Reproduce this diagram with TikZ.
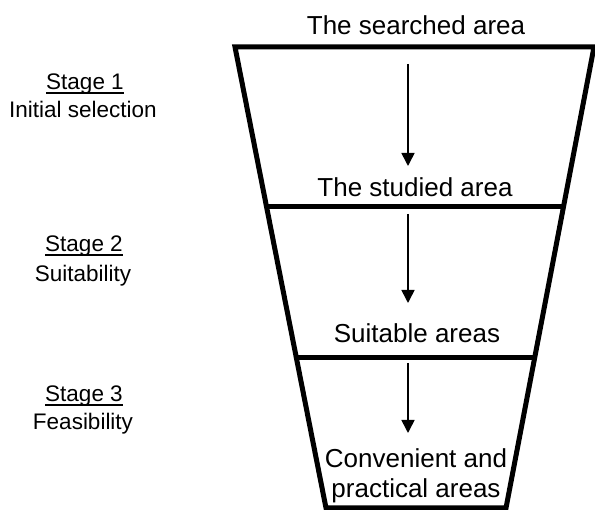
\documentclass[tikz,border=0pt]{standalone}
\usepackage{fontspec}
\setmainfont{Liberation Sans}
\usetikzlibrary{arrows.meta,calc}
\tikzset{
  rim/.style={line width=5pt,line join=miter},
  flow/.style={-{Triangle[width=13pt,length=13pt]},line width=1.6pt},
  arealabel/.style={font=\fontsize{26}{30}\selectfont,anchor=base,inner sep=0pt},
  stagelabel/.style={font=\fontsize{22.5}{26}\selectfont,anchor=base,inner sep=0pt},
  uline/.style={line width=1.3pt}
}
\begin{document}
\begin{tikzpicture}[x=1pt,y=-1pt]
        \useasboundingbox (0,0) rectangle (595,510);

        % воронка
        \coordinate (tl) at (235,47);
        \coordinate (tr) at (594,47);
        \coordinate (br) at (506,508);
        \coordinate (bl) at (326,508);
        \draw[rim] (tl) -- (tr) -- (br) -- (bl) -- cycle;
        \draw[rim] ($(tl)!0.347!(bl)$) -- ($(tr)!0.347!(br)$);
        \draw[rim] ($(tl)!0.6725!(bl)$) -- ($(tr)!0.6725!(br)$);

        % подписи уровней
        \node[arealabel] (searched) at (416,35) {The searched area};
        \node[arealabel] (studied) at (415,197) {The studied area};
        \node[arealabel] (suitable) at (417,343) {Suitable areas};
        \node[arealabel] (convenient) at (416,468) {Convenient and};
        \node[arealabel] (practical) at (416,498) {practical areas};

        % стрелки
        \coordinate (s1) at (408,64);
        \coordinate (e1) at (408,166);
        \coordinate (s2) at (408,214);
        \coordinate (e2) at (408,303);
        \coordinate (s3) at (408,363);
        \coordinate (e3) at (408,433);
        \draw[flow] (s1) -- (e1);
        \draw[flow] (s2) -- (e2);
        \draw[flow] (s3) -- (e3);

        % этапы
        \node[stagelabel] (stage1) at (85,90) {Stage 1};
        \node[stagelabel] (initial) at (83,118) {Initial selection};
        \node[stagelabel] (stage2) at (84,252) {Stage 2};
        \node[stagelabel] (suitability) at (83,282) {Suitability};
        \node[stagelabel] (stage3) at (84,402) {Stage 3};
        \node[stagelabel] (feasibility) at (83,430) {Feasibility};
        \foreach \s in {stage1,stage2,stage3}
          \draw[uline] ([yshift=-3pt]\s.base west) -- ([yshift=-3pt]\s.base east);
\end{tikzpicture}
\end{document}
